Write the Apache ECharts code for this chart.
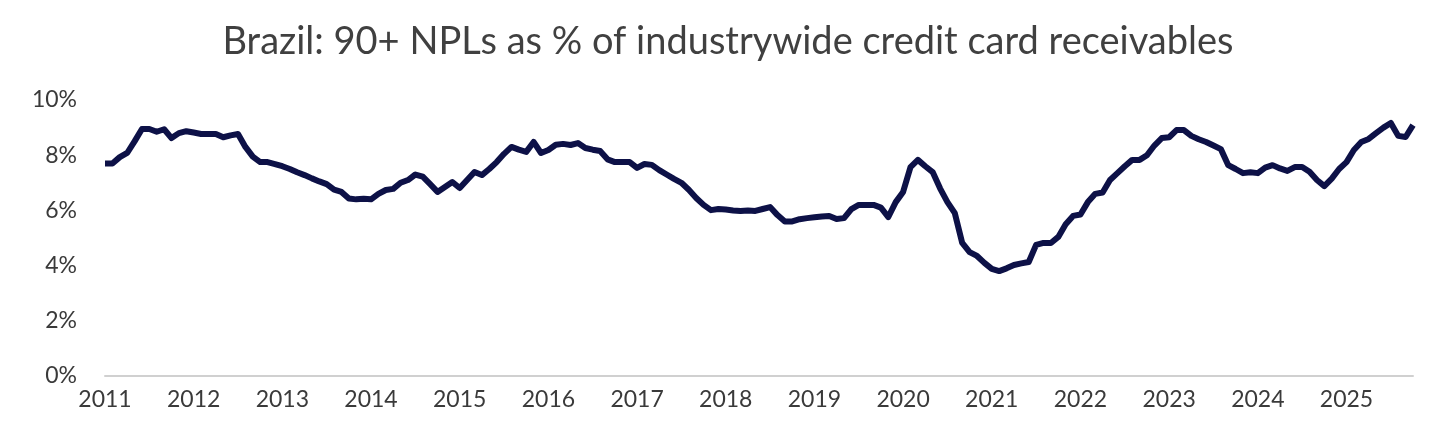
<!DOCTYPE html>
<html>
<head>
<meta charset="utf-8">
<script src="https://cdn.jsdelivr.net/npm/echarts@6/dist/echarts.min.js"></script>
<style>
  html, body { margin: 0; padding: 0; background: #fff; }
  #chart { width: 1456px; height: 445px; }
</style>
</head>
<body>
<div id="chart"></div>
<script>
// monthly, Jan 2011 .. Oct 2025
var startYear = 2011;
var npl = [
  7.7, 7.7, 7.93, 8.08, 8.5, 8.95, 8.95, 8.85, 8.94, 8.62, 8.8, 8.87,
  8.82, 8.77, 8.77, 8.77, 8.65, 8.72, 8.77, 8.3, 7.95, 7.75, 7.75, 7.68,
  7.6, 7.5, 7.38, 7.28, 7.16, 7.05, 6.95, 6.75, 6.67, 6.43, 6.4, 6.42,
  6.4, 6.6, 6.74, 6.78, 7.0, 7.1, 7.3, 7.22, 6.95, 6.67, 6.85, 7.03,
  6.81, 7.1, 7.39, 7.28, 7.5, 7.75, 8.05, 8.3, 8.2, 8.12, 8.48, 8.08,
  8.19, 8.38, 8.41, 8.37, 8.44, 8.26, 8.2, 8.15, 7.85, 7.75, 7.75, 7.75,
  7.54, 7.68, 7.65, 7.46, 7.3, 7.14, 7.0, 6.75, 6.45, 6.2, 6.01, 6.05,
  6.03, 6.0, 5.98, 6.0, 5.98, 6.05, 6.12, 5.83, 5.6, 5.6, 5.68, 5.72,
  5.75, 5.78, 5.8, 5.69, 5.72, 6.05, 6.2, 6.2, 6.2, 6.1, 5.76, 6.3,
  6.67, 7.57, 7.83, 7.6, 7.39, 6.8, 6.3, 5.9, 4.82, 4.49, 4.35, 4.1,
  3.88, 3.8, 3.9, 4.02, 4.08, 4.13, 4.75, 4.82, 4.82, 5.04, 5.5, 5.8,
  5.85, 6.3, 6.6, 6.65, 7.1, 7.35, 7.6, 7.83, 7.83, 8.0, 8.35, 8.62,
  8.65, 8.91, 8.91, 8.7, 8.58, 8.48, 8.35, 8.22, 7.64, 7.5, 7.35, 7.38,
  7.35, 7.55, 7.64, 7.52, 7.43, 7.57, 7.57, 7.4, 7.1, 6.88, 7.15, 7.5,
  7.75, 8.19, 8.48, 8.59, 8.8, 9.0, 9.17, 8.7, 8.66, 9.09
];
var labelIdx  = [6, 34, 58, 92, 110, 121, 145, 165, 174];
var labelText = ['8,9%', '6,4%', '8,4%', '5,5%', '7,5%', '3,8%', '8,9%', '6,8%', '9,0%'];
var labelPos  = ['top', 'bottom', 'top', 'bottom', 'top', 'bottom', 'top', 'bottom', 'top'];

var months = npl.map(function (v, i) {
  return String(startYear + Math.floor(i / 12)) + '-' + (i % 12 + 1);
});

var data = npl.map(function (v, i) {
  var k = labelIdx.indexOf(i);
  if (k < 0) return v;
  return {
    value: v,
    label: {
      show: true, position: labelPos[k], distance: labelPos[k] === 'top' ? 12 : 22,
      formatter: labelText[k], fontSize: 25, color: '#3a3a3a', fontFamily: 'Lato'
    }
  };
});

var chart = echarts.init(document.getElementById('chart'));
chart.setOption({
  animation: false,
  title: {
    text: 'Brazil: 90+ NPLs as % of industrywide credit card receivables',
    left: 'center', top: 18,
    textStyle: { fontFamily: 'Lato', fontSize: 38, fontWeight: 'normal', color: '#404040' }
  },
  grid: { left: 105, right: 43, top: 100, bottom: 69 },
  xAxis: {
    type: 'category', data: months, boundaryGap: false,
    axisLine: { lineStyle: { color: '#d0d0d0', width: 2 } },
    axisTick: { show: false },
    axisLabel: {
      interval: 11, margin: 12, fontFamily: 'Lato', fontSize: 23, color: '#3a3a3a',
      formatter: function (v) { return v.split('-')[0]; }
    }
  },
  yAxis: {
    type: 'value', min: 0, max: 10, interval: 2,
    splitLine: { show: false },
    axisLabel: { fontFamily: 'Lato', fontSize: 23, color: '#3a3a3a', margin: 28,
      formatter: function (v) { return v + '%'; } }
  },
  series: [{
    type: 'line', data: data, showSymbol: true, symbol: 'circle', symbolSize: 0.1,
    itemStyle: { color: '#0d1147', opacity: 0 },
    label: { show: false },
    lineStyle: { color: '#0d1147', width: 6, join: 'round' }
  }]
});
</script>
</body>
</html>
